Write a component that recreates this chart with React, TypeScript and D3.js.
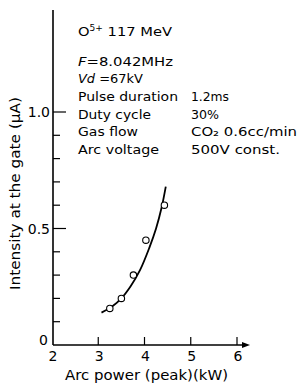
import React from "react";
import * as d3 from "d3";

const W = 299, H = 384;
const xTicks = [2, 3, 4, 5, 6];
const yMajor = [0, 0.5, 1.0];
const yMinor = [0.1, 0.2, 0.3, 0.4, 0.6, 0.7, 0.8, 0.9];
const pointX = [3.25, 3.5, 3.76, 4.03, 4.43];
const pointY = [0.157, 0.2, 0.3, 0.45, 0.6];
const curveX = [3.07, 3.3, 3.5, 3.7, 3.9, 4.1, 4.25, 4.37, 4.46];
const curveY = [0.139, 0.165, 0.2, 0.252, 0.32, 0.415, 0.5, 0.59, 0.68];
const infoLabels = ["Pulse duration", "Duty cycle", "Gas flow", "Arc voltage"];
const infoValues = ["1.2ms", "30%", "CO₂ 0.6cc/min", "500V const."];
const labelWidths = [100, 73, 60, 81];
const valueWidths = [38, 28, 106, 89];

export default function App() {
  const x = d3.scaleLinear().domain([2, 6]).range([52, 237]);
  const y = d3.scaleLinear().domain([0, 1]).range([345, 112]);
  const line = d3
    .line<number>()
    .x((_, i) => x(curveX[i]))
    .y((_, i) => y(curveY[i]))
    .curve(d3.curveCatmullRom.alpha(0.5));
  const font = "'DejaVu Sans', sans-serif";
  const adj = "spacingAndGlyphs";
  return (
    <svg
      width={W}
      height={H}
      style={{ position: "absolute", left: 0, top: 0, background: "#fff" }}
      fontFamily={font}
      fill="#000"
    >
      {/* axes */}
      <line x1={53} y1={10} x2={53} y2={345} stroke="#000" strokeWidth={1.6} />
      <line x1={53} y1={345} x2={246} y2={345} stroke="#000" strokeWidth={1.4} />
      <path d="M250,345 L242,342 L242,348 Z" fill="#000" />
      {xTicks.map((t) => (
        <g key={"xt" + t}>
          {t !== 2 && (
            <line x1={x(t)} x2={x(t)} y1={337} y2={345} stroke="#000" strokeWidth={1.2} />
          )}
          <text x={x(t) + 1} y={361} fontSize={14} textAnchor="middle">
            {t}
          </text>
        </g>
      ))}
      {yMajor.map((t) => (
        <g key={"ym" + t}>
          {t !== 0 && (
            <line x1={53} x2={66} y1={y(t)} y2={y(t)} stroke="#000" strokeWidth={1.2} />
          )}
          <text
            x={t === 0 ? 48 : 50}
            y={t === 0 ? y(t) : y(t) + 5}
            fontSize={14}
            textAnchor="end"
          >
            {t === 0 ? "0" : t.toFixed(1)}
          </text>
        </g>
      ))}
      {yMinor.map((t) => (
        <line key={"yn" + t} x1={53} x2={60} y1={y(t)} y2={y(t)} stroke="#000" strokeWidth={1.2} />
      ))}
      {/* axis titles */}
      <text x={65} y={380} fontSize={14} textLength={163} lengthAdjust={adj}>
        Arc power (peak)(kW)
      </text>
      <text
        transform="translate(20,290) rotate(-90)"
        fontSize={14}
        textLength={193}
        lengthAdjust={adj}
      >
        Intensity at the gate (μA)
      </text>
      {/* annotation */}
      <text x={78} y={36} fontSize={13} textLength={94} lengthAdjust={adj}>
        O<tspan dy={-5} fontSize={8}>5+</tspan>
        <tspan dy={5}> 117 MeV</tspan>
      </text>
      <text x={78} y={66} fontSize={13} textLength={95} lengthAdjust={adj}>
        <tspan fontStyle="italic">F</tspan>=8.042MHz
      </text>
      <text x={78} y={83} fontSize={13} textLength={65} lengthAdjust={adj}>
        <tspan fontStyle="italic">Vd</tspan> =67kV
      </text>
      {infoLabels.map((s, i) => (
        <g key={s}>
          <text x={78} y={101 + i * 17.5} fontSize={13} textLength={labelWidths[i]} lengthAdjust={adj}>
            {s}
          </text>
          <text x={191} y={101 + i * 17.5} fontSize={13} textLength={valueWidths[i]} lengthAdjust={adj}>
            {infoValues[i]}
          </text>
        </g>
      ))}
      {/* curve and points */}
      <path d={line(curveX) || ""} fill="none" stroke="#000" strokeWidth={1.8} />
      {pointX.map((v, i) => (
        <circle key={"p" + i} cx={x(v)} cy={y(pointY[i])} r={3.2} fill="#fff" stroke="#000" strokeWidth={1.1} />
      ))}
    </svg>
  );
}
